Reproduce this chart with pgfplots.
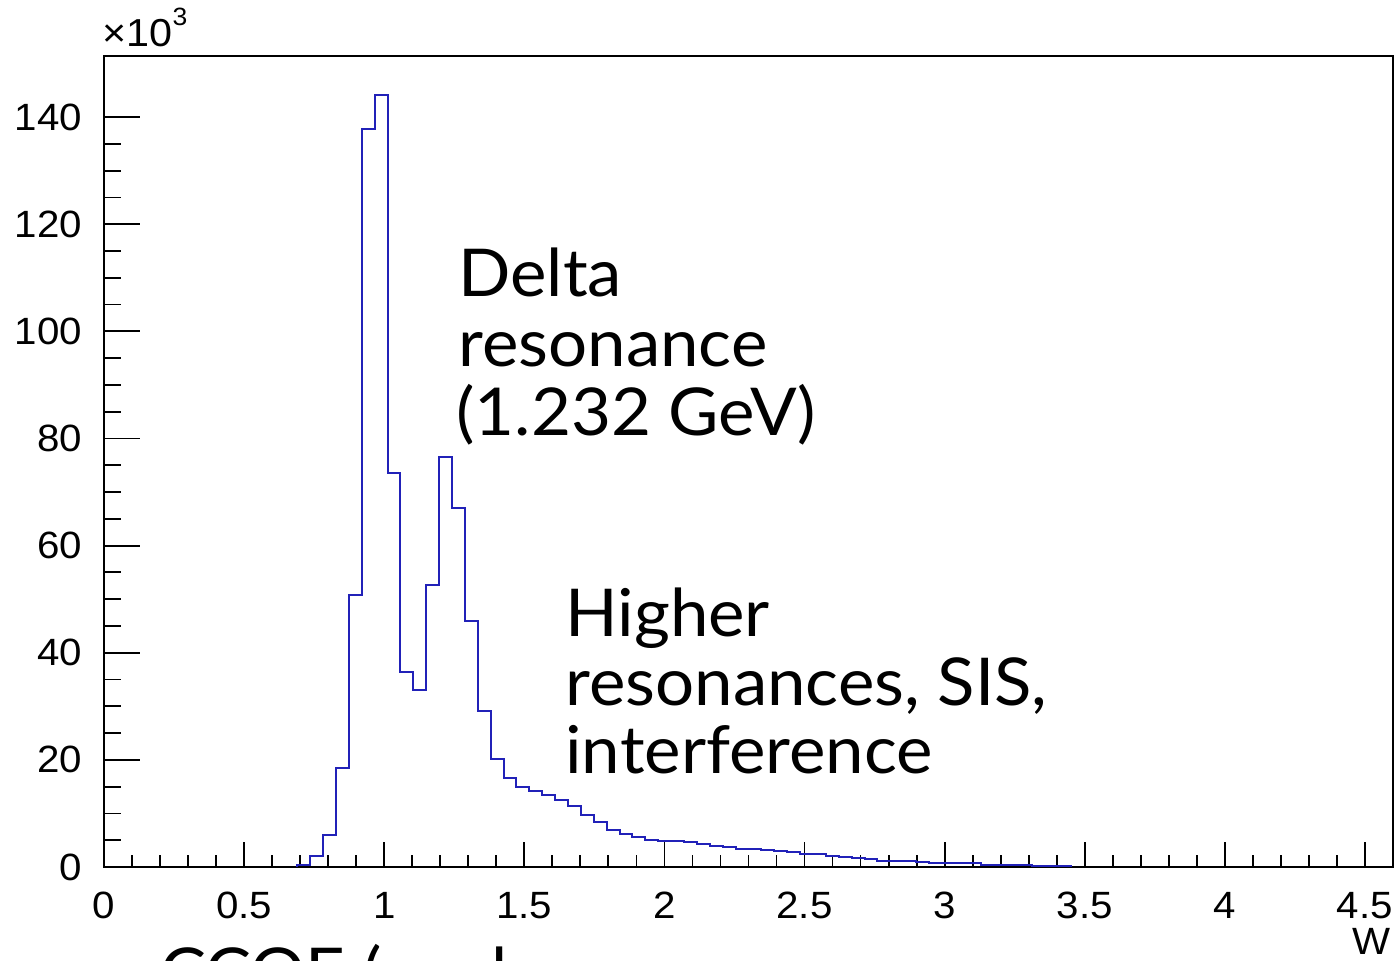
\documentclass[border=0pt]{standalone}
\usepackage{fontspec}
\setmainfont{Lato}[FakeStretch=1.045]
\newfontfamily\ticksfont{Liberation Sans}[FakeStretch=1.06]
\usepackage{pgfplots}
\pgfplotsset{compat=1.18}

\definecolor{histblue}{rgb}{0.13,0.13,0.72}

\begin{document}
\begin{tikzpicture}
\begin{axis}[
  at={(52pt,46.5pt)}, anchor=south west,
  scale only axis,
  width=644.5pt, height=405.5pt,
  xmin=0, xmax=4.6, ymin=0, ymax=151.4,
  axis line style={line width=0.9pt},
  tick align=inside,
  xtick pos=left, ytick pos=left,
  xtick={0,0.5,1,1.5,2,2.5,3,3.5,4,4.5},
  xticklabels={0,0.5,1,1.5,2,2.5,3,3.5,4,4.5},
  ytick={0,20,40,60,80,100,120,140},
  yticklabels={0,20,40,60,80,100,120,140},
  minor x tick num=4, minor y tick num=3,
  x tick style={black, line width=0.9pt, /pgfplots/major tick length=12.5pt, /pgfplots/minor tick length=6pt},
  y tick style={black, line width=0.9pt, /pgfplots/major tick length=18pt, /pgfplots/minor tick length=8.5pt},
  scaled ticks=false,
  /pgf/number format/assume math mode=true,
  tick label style={font=\ticksfont\fontsize{19}{20}\selectfont},
  xticklabel style={yshift=-9pt},
  yticklabel style={xshift=-7.5pt},
  clip=false,
]
\addplot[const plot, histblue, line width=1pt] coordinates {
(0.690,0)
(0.690,0.35) (0.736,2.1) (0.782,5.9) (0.828,18.5) (0.874,50.8)
(0.920,137.7) (0.966,144.2) (1.012,73.5) (1.058,36.4) (1.104,33.1)
(1.150,52.6) (1.196,76.5) (1.242,67.1) (1.288,45.9) (1.334,29.1)
(1.380,20.1) (1.426,16.6) (1.472,14.9) (1.518,14.1) (1.564,13.4)
(1.610,12.5) (1.656,11.4) (1.702,9.7) (1.748,8.4) (1.794,7.0)
(1.840,6.2) (1.886,5.6) (1.932,5.1) (1.978,4.9) (2.024,4.8)
(2.070,4.7) (2.116,4.3) (2.162,3.9) (2.208,3.8) (2.254,3.4)
(2.300,3.3) (2.346,3.2) (2.392,2.9) (2.438,2.8) (2.484,2.5)
(2.530,2.4) (2.576,2.0) (2.622,1.9) (2.668,1.6) (2.714,1.5)
(2.760,1.2) (2.806,1.1) (2.852,1.1) (2.898,1.0) (2.944,0.8)
(2.990,0.75) (3.036,0.7) (3.082,0.7) (3.128,0.35) (3.174,0.3)
(3.220,0.3) (3.266,0.3) (3.312,0.25) (3.358,0.25) (3.404,0.25)
(3.450,0)
};
% multiplier and axis title in ROOT style
\node[anchor=base west, inner sep=0pt, font=\ticksfont\fontsize{19.5}{20}\selectfont]
  at (rel axis cs:0,1) [xshift=-1pt, yshift=4.5pt] {×10\raisebox{1.05ex}{\fontsize{12.5}{12}\selectfont 3}};
\node[anchor=north east, inner sep=0pt, font=\ticksfont\fontsize{19}{20}\selectfont]
  at (rel axis cs:1,0) [xshift=-1pt, yshift=-30.5pt] {W};
\end{axis}

% annotations
\begin{scope}[every node/.style={anchor=base west, inner sep=0pt, font=\fontsize{33}{35}\selectfont}]
\node at (229pt,331.5pt) {Delta};
\node at (229pt,296.5pt) {resonance};
\node at (228pt,262pt) {(1.232 GeV)};
\node at (282.5pt,162pt) {Higher};
\node at (282.5pt,127.5pt) {resonances, SIS,};
\node at (282.5pt,93.5pt) {interference};
\node at (80pt,-17.5pt) {CCQE (nucleon};
\end{scope}

\pgfresetboundingbox
\useasboundingbox (0,0) rectangle (698.5pt,480pt);
\end{tikzpicture}
\end{document}
